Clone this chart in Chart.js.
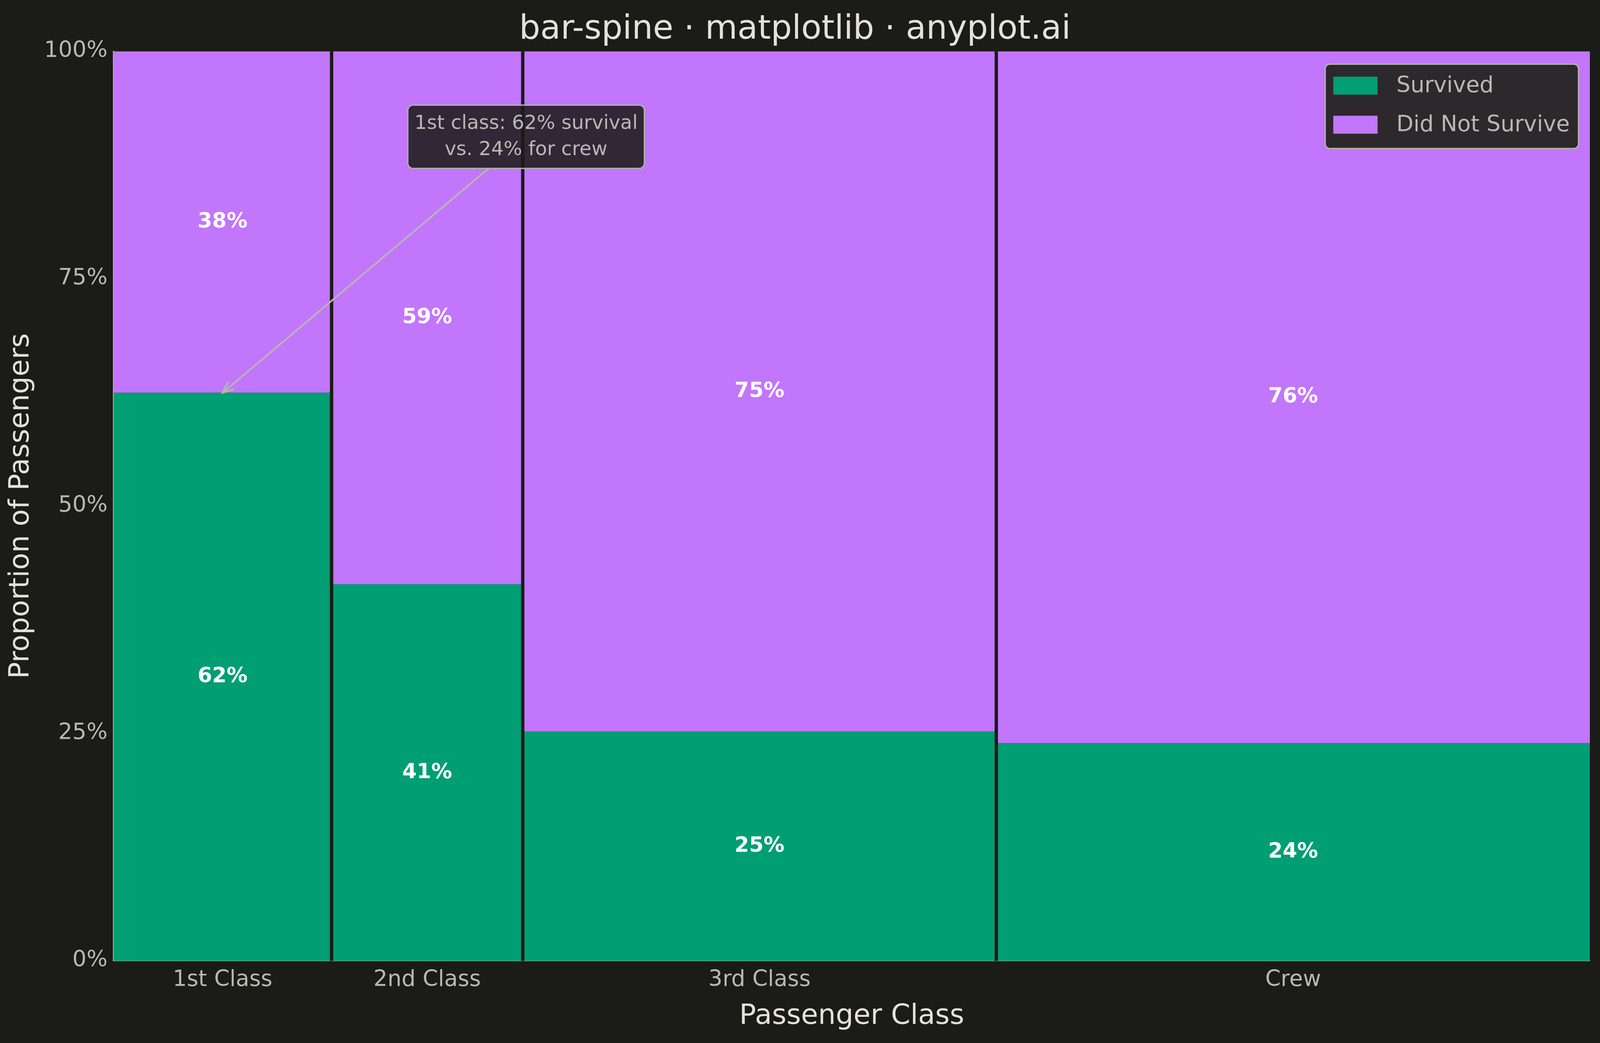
<!DOCTYPE html>
<html>
<head>
<meta charset="utf-8">
<title>bar-spine</title>
<script src="https://cdn.jsdelivr.net/npm/chart.js@4.4.1/dist/chart.umd.min.js"></script>
<style>
  html, body { margin: 0; padding: 0; background: #1b1b17; overflow: hidden; }
  canvas { display: block; }
</style>
</head>
<body>
<canvas id="spineChart"></canvas>
<script>
// Titanic passengers per class, and how many survived
const classes = ['1st Class', '2nd Class', '3rd Class', 'Crew'];
const passengers = [325, 285, 706, 885];
const survivedCount = [203, 118, 178, 212];
const yTicks = [0, 25, 50, 75, 100];

const BG = '#1b1b17';
const GREEN = '#009e73';
const PURPLE = '#c276fc';
const TICK = '#b8b8b0';
const INK = '#e2e2da';
const FONT = "'DejaVu Sans', 'Liberation Sans', sans-serif";

// fit the window; sizes below are for a 4765x2670 page
const W = window.innerWidth, H = window.innerHeight;
const S = W / 4765;       // horizontal / font scale
const V = H / 2670;       // vertical scale
const px = v => v * S;
const py = v => v * V;

const canvas = document.getElementById('spineChart');
canvas.style.width = W + 'px';
canvas.style.height = H + 'px';
canvas.width = W;
canvas.height = H;

// spine widths follow class size
let starts = [];
let total = 0;
passengers.forEach(n => { starts.push(total); total += n; });
const centers = starts.map((s, i) => s + passengers[i] / 2);
const survivedPct = survivedCount.map((s, i) => s / passengers[i] * 100);
const diedPct = survivedPct.map(p => 100 - p);

// stepped line points: one per spine start, plus the right edge
function stepPoints(vals) {
    let pts = starts.map((x, i) => ({ x: x, y: vals[i] }));
    pts.push({ x: total, y: vals[vals.length - 1] });
    return pts;
}

const bgPlugin = {
    id: 'bg',
    beforeDraw(chart) {
        const ctx = chart.ctx;
        ctx.save();
        ctx.fillStyle = BG;
        ctx.fillRect(0, 0, chart.width, chart.height);
        ctx.restore();
    }
};

// gaps between spines + percentage labels
const spinePlugin = {
    id: 'spines',
    afterDatasetsDraw(chart) {
        const ctx = chart.ctx;
        const x = chart.scales.x, y = chart.scales.y;
        const area = chart.chartArea;
        ctx.save();
        ctx.fillStyle = BG;
        for (let i = 1; i < starts.length; i++) {
            const bx = x.getPixelForValue(starts[i]);
            ctx.fillRect(bx - px(5), area.top, px(10), area.bottom - area.top);
        }
        ctx.fillStyle = '#ffffff';
        ctx.font = 'bold ' + px(62) + 'px ' + FONT;
        ctx.textAlign = 'center';
        ctx.textBaseline = 'middle';
        for (let i = 0; i < classes.length; i++) {
            const cx = x.getPixelForValue(centers[i]);
            ctx.fillText(Math.round(survivedPct[i]) + '%', cx, y.getPixelForValue(survivedPct[i] / 2));
            ctx.fillText(Math.round(diedPct[i]) + '%', cx, y.getPixelForValue(survivedPct[i] + diedPct[i] / 2));
        }
        ctx.restore();
    }
};

function roundRect(ctx, x, y, w, h, r) {
    ctx.beginPath();
    ctx.moveTo(x + r, y);
    ctx.arcTo(x + w, y, x + w, y + h, r);
    ctx.arcTo(x + w, y + h, x, y + h, r);
    ctx.arcTo(x, y + h, x, y, r);
    ctx.arcTo(x, y, x + w, y, r);
    ctx.closePath();
}

// legend box in the top right corner + callout
const overlayPlugin = {
    id: 'overlay',
    afterDraw(chart) {
        const ctx = chart.ctx;
        const area = chart.chartArea;
        const x = chart.scales.x, y = chart.scales.y;
        ctx.save();

        // legend
        ctx.font = px(66) + 'px ' + FONT;
        const items = chart.data.datasets;
        let tw = 0;
        items.forEach(d => { tw = Math.max(tw, ctx.measureText(d.label).width); });
        const lw = px(24 + 132 + 56 + 26) + tw;
        const lh = py(216);
        const lx = area.right - px(34) - lw;
        const ly = area.top + py(33);
        roundRect(ctx, lx, ly, lw, lh, px(14));
        ctx.fillStyle = 'rgba(36,36,32,0.95)';
        ctx.fill();
        ctx.lineWidth = px(4);
        ctx.strokeStyle = '#b2b2aa';
        ctx.stroke();
        ctx.textBaseline = 'middle';
        ctx.textAlign = 'left';
        items.forEach((d, i) => {
            const ry = ly + py(55 + i * 100);
            ctx.fillStyle = d.backgroundColor;
            ctx.fillRect(lx + px(24), ry - py(23), px(132), py(46));
            ctx.fillStyle = TICK;
            ctx.fillText(d.label, lx + px(24 + 132 + 56), ry + px(2));
        });

        // callout
        const lines = [
            '1st class: ' + Math.round(survivedPct[0]) + '% survival',
            'vs. ' + Math.round(survivedPct[3]) + '% for crew'
        ];
        ctx.font = px(58) + 'px ' + FONT;
        let mw = 0;
        lines.forEach(t => { mw = Math.max(mw, ctx.measureText(t).width); });
        const bw = mw + px(40), bh = py(162);
        const bx = x.getPixelForValue(615), by = y.getPixelForValue(90.6);
        const tipX = x.getPixelForValue(centers[0]), tipY = y.getPixelForValue(survivedPct[0]);
        const dx = tipX - bx, dy = tipY - by;
        const t = Math.min((bw / 2) / Math.abs(dx), (bh / 2) / Math.abs(dy));
        const sx = bx + dx * t, sy = by + dy * t;
        ctx.strokeStyle = '#b8b8b0';
        ctx.lineWidth = px(5);
        ctx.lineCap = 'round';
        ctx.beginPath();
        ctx.moveTo(sx, sy);
        ctx.lineTo(tipX, tipY);
        ctx.stroke();
        const ang = Math.atan2(dy, dx);
        const ah = px(34);
        ctx.beginPath();
        ctx.moveTo(tipX - ah * Math.cos(ang - 0.4), tipY - ah * Math.sin(ang - 0.4));
        ctx.lineTo(tipX, tipY);
        ctx.lineTo(tipX - ah * Math.cos(ang + 0.4), tipY - ah * Math.sin(ang + 0.4));
        ctx.stroke();

        roundRect(ctx, bx - bw / 2, by - bh / 2, bw, bh, px(16));
        ctx.fillStyle = 'rgba(28,28,25,0.87)';
        ctx.fill();
        ctx.lineWidth = px(4);
        ctx.strokeStyle = '#b2b2aa';
        ctx.stroke();
        ctx.fillStyle = TICK;
        ctx.textAlign = 'center';
        ctx.fillText(lines[0], bx, by - py(33));
        ctx.fillText(lines[1], bx, by + py(34));
        ctx.restore();
    }
};

// vertical layout as fractions of the page height
const titlePadTop = Math.max(0, 0.025 * H - px(48));
const titlePadBottom = Math.max(0, 0.0239 * H - px(70));
const xTickPad = Math.max(0, 0.0171 * H - px(34.6));
const xTitlePad = Math.max(0, 0.0341 * H - px(107));
const bottomPad = Math.max(0, 0.0273 * H - px(56));

new Chart(canvas, {
    type: 'line',
    data: {
        datasets: [{
            label: 'Survived',
            data: stepPoints(survivedPct),
            stepped: true,
            fill: 'origin',
            backgroundColor: GREEN,
            borderWidth: 0,
            pointRadius: 0
        }, {
            label: 'Did Not Survive',
            data: stepPoints(diedPct),
            stepped: true,
            fill: '-1',
            backgroundColor: PURPLE,
            borderWidth: 0,
            pointRadius: 0
        }]
    },
    options: {
        responsive: false,
        animation: false,
        layout: { padding: { left: 0, right: px(30), top: 0, bottom: bottomPad } },
        plugins: {
            legend: { display: false },
            tooltip: { enabled: false },
            title: {
                display: true,
                text: 'bar-spine · matplotlib · anyplot.ai',
                color: INK,
                font: { family: FONT, size: px(99), weight: 'normal' },
                padding: { top: titlePadTop, bottom: titlePadBottom }
            }
        },
        scales: {
            x: {
                type: 'linear',
                min: 0,
                max: total,
                z: 1,
                afterBuildTicks: s => { s.ticks = centers.map(v => ({ value: v })); },
                grid: { display: false, drawTicks: false },
                border: { display: true, color: '#b2b2aa', width: px(3) },
                ticks: {
                    autoSkip: false,
                    maxRotation: 0,
                    padding: xTickPad,
                    color: TICK,
                    font: { family: FONT, size: px(66) },
                    callback: (v, i) => classes[i]
                },
                title: {
                    display: true,
                    text: 'Passenger Class',
                    color: INK,
                    font: { family: FONT, size: px(83) },
                    padding: { top: xTitlePad, bottom: 0 }
                }
            },
            y: {
                min: 0,
                max: 100,
                stacked: true,
                z: 1,
                afterBuildTicks: s => { s.ticks = yTicks.map(v => ({ value: v })); },
                grid: {
                    drawTicks: false,
                    lineWidth: px(2),
                    color: c => (c.tick && (c.tick.value === 0 || c.tick.value === 100)) ? 'rgba(0,0,0,0)' : 'rgba(255,255,255,0.07)'
                },
                border: { display: true, color: '#b2b2aa', width: px(3) },
                ticks: {
                    padding: px(18),
                    color: TICK,
                    font: { family: FONT, size: px(66) },
                    callback: v => v + '%'
                },
                title: {
                    display: true,
                    text: 'Proportion of Passengers',
                    color: INK,
                    font: { family: FONT, size: px(83) },
                    padding: { top: px(14), bottom: 0 }
                }
            }
        }
    },
    plugins: [bgPlugin, spinePlugin, overlayPlugin]
});
</script>
</body>
</html>
